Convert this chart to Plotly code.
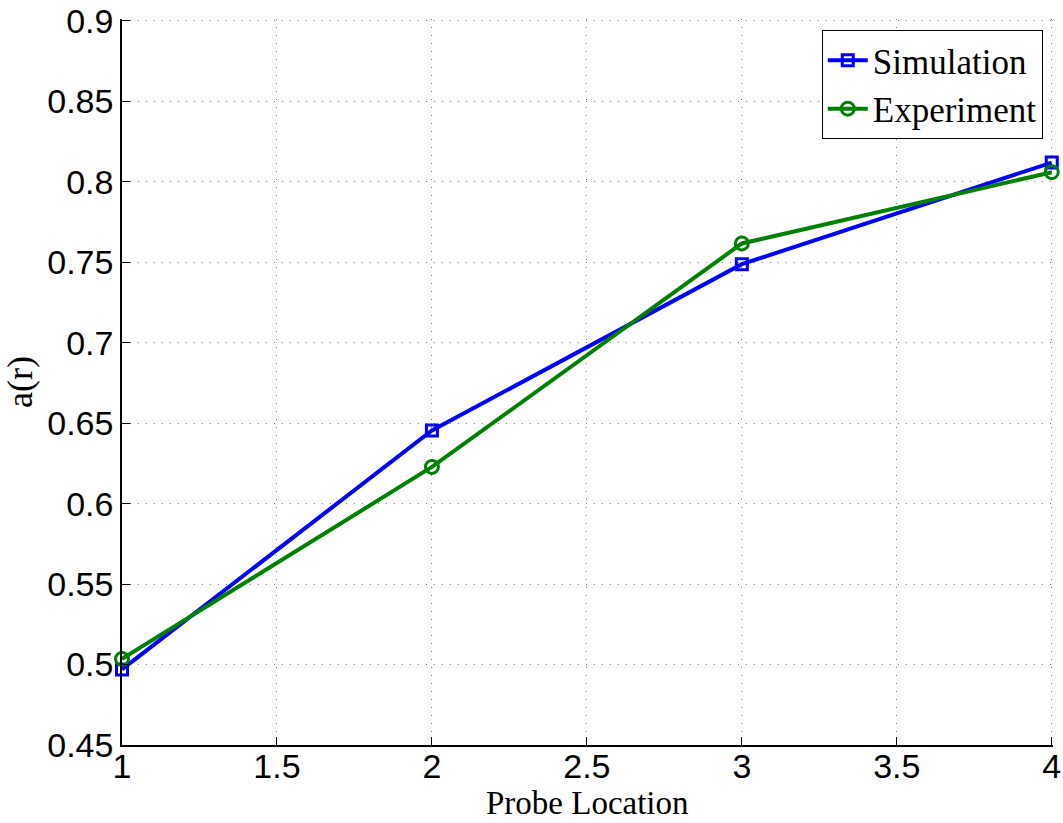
import plotly.graph_objects as go

x_locations = [1, 2, 3, 4]
simulation = [0.497, 0.6455, 0.7488, 0.812]
experiment = [0.5035, 0.6228, 0.7617, 0.806]

x_ticks = [1, 1.5, 2, 2.5, 3, 3.5, 4]
x_tick_labels = ["1", "1.5", "2", "2.5", "3", "3.5", "4"]
y_ticks = [0.45, 0.5, 0.55, 0.6, 0.65, 0.7, 0.75, 0.8, 0.85, 0.9]
y_tick_labels = ["0.45", "0.5", "0.55", "0.6", "0.65", "0.7", "0.75", "0.8", "0.85", "0.9"]

fig = go.Figure()
fig.add_trace(go.Scatter(
    x=x_locations, y=simulation, name="Simulation", mode="lines+markers",
    line=dict(color="#0000ff", width=4),
    marker=dict(symbol="square-open", size=11, color="#0000ff", line=dict(width=3)),
    cliponaxis=False,
))
fig.add_trace(go.Scatter(
    x=x_locations, y=experiment, name="Experiment", mode="lines+markers",
    line=dict(color="#008000", width=4),
    marker=dict(symbol="circle-open", size=13, color="#008000", line=dict(width=3)),
    cliponaxis=False,
))

grid_style = dict(showgrid=True, gridcolor="#777777", gridwidth=1, griddash="1px,7px")

fig.update_layout(
    width=1063, height=823,
    margin=dict(l=122, r=10, t=19, b=78),
    paper_bgcolor="white", plot_bgcolor="white",
    showlegend=True,
    legend=dict(
        x=0.989, y=0.985, xanchor="right", yanchor="top",
        bordercolor="black", borderwidth=1, bgcolor="white",
        font=dict(family="Liberation Serif", size=35, color="black"),
        tracegroupgap=0, itemwidth=40,
    ),
    xaxis=dict(
        range=[1, 4.004], tickvals=x_ticks, ticktext=x_tick_labels,
        showline=True, linecolor="black", linewidth=1.5,
        ticks="inside", ticklen=8, tickcolor="black",
        zeroline=False, automargin=False,
        ticklabeloverflow="allow", ticklabelstandoff=-10,
        tickfont=dict(family="Liberation Sans", size=34, color="black"),
        **grid_style,
    ),
    yaxis=dict(
        range=[0.45, 0.9012], tickvals=y_ticks, ticktext=y_tick_labels,
        showline=True, linecolor="black", linewidth=1.5,
        ticks="inside", ticklen=8, tickcolor="black",
        zeroline=False, automargin=False,
        ticklabeloverflow="allow",
        tickfont=dict(family="Liberation Sans", size=34, color="black"),
        title=dict(text="a(r)", standoff=4,
                   font=dict(family="Liberation Serif", size=36, color="black")),
        **grid_style,
    ),
    annotations=[dict(
        text="Probe Location", xref="paper", yref="paper", x=0.5, y=0,
        xanchor="center", yanchor="bottom", yshift=-78, showarrow=False,
        font=dict(family="Liberation Serif", size=33, color="black"),
    )],
)

fig.write_html("out.html")
